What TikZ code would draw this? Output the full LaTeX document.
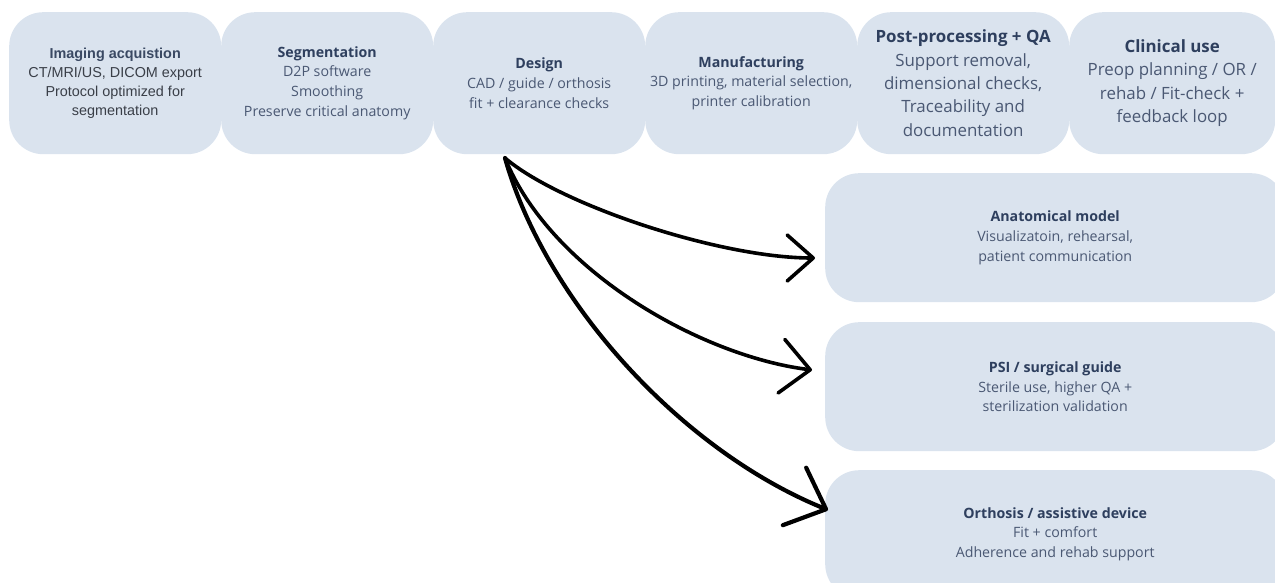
\documentclass[tikz,border=0pt]{standalone}
\usepackage{fontspec}
\setmainfont{Open Sans}
\newfontfamily\arialfont{Liberation Sans}
\usetikzlibrary{arrows.meta}

\definecolor{boxfill}{HTML}{DAE3EE}
\definecolor{titleblue}{HTML}{2E3F5E}
\definecolor{bodyblue}{HTML}{4A5873}
\definecolor{bodygray}{HTML}{3A3F48}

\tikzset{
  stage/.style={fill=boxfill, draw=none, rounded corners=34pt, inner sep=0pt,
    align=center, text=bodyblue, anchor=north west,
    minimum width=212pt, minimum height=142pt},
  usecase/.style={stage, minimum width=460pt, minimum height=129pt},
  small/.style={font=\fontsize{14.2}{19.8}\selectfont},
  large/.style={font=\fontsize{16.9}{23.4}\selectfont},
  flow/.style={line width=3.6pt, line cap=round, line join=round},
}
\newcommand{\ttl}[1]{\textcolor{titleblue}{\bfseries #1}}

\begin{document}
\begin{tikzpicture}[x=1pt,y=-1pt]
\useasboundingbox (0,0) rectangle (1275,583);

% pipeline stages
\node[stage, text=bodygray, font=\arialfont\fontsize{14.4}{19.2}\selectfont] (imaging) at (9,12)
  {\textcolor{titleblue!85!gray}{\bfseries Imaging acquistion}\\CT/MRI/US, DICOM export\\Protocol optimized for\\segmentation};
\node[stage, small] (seg) at (221,12)
  {\ttl{Segmentation}\\D2P software\\Smoothing\\Preserve critical anatomy};
\node[stage, small] (design) at (433,12)
  {\ttl{Design}\\CAD / guide / orthosis\\fit + clearance checks};
\node[stage, small] (manu) at (645,12)
  {\ttl{Manufacturing}\\3D printing, material selection,\\printer calibration};
\node[stage, large] (post) at (857,12)
  {\ttl{Post-processing + QA}\\Support removal,\\dimensional checks,\\Traceability and\\documentation};
\node[stage, large, minimum width=206pt] (clin) at (1069,12)
  {\ttl{Clinical use}\\Preop planning / OR /\\rehab / Fit-check +\\feedback loop};

% application boxes
\node[usecase, small] (anat) at (825,173)
  {\ttl{Anatomical model}\\Visualizatoin, rehearsal,\\patient communication};
\node[usecase, small] (psi) at (825,322)
  {\ttl{PSI / surgical guide}\\Sterile use, higher QA +\\sterilization validation};
\node[usecase, small, minimum height=128pt] (orth) at (825,470)
  {\ttl{Orthosis / assistive device}\\Fit + comfort\\Adherence and rehab support};

% hand-drawn branch arrows from the design stage
\coordinate (src) at (505,158);
\coordinate (toanat) at (815,258);
\coordinate (topsi) at (812,370);
\coordinate (toorth) at (828,510);

\draw[flow, -{Straight Barb[length=26pt,width=46pt,round]}]
  (src) .. controls (560,205) and (720,258) .. (toanat);
\draw[flow, -{Straight Barb[length=29pt,width=54pt,round]}]
  (src) .. controls (550,270) and (700,356) .. (topsi);
\draw[flow, line width=4.2pt, -{Straight Barb[length=34pt,width=62pt,round]}]
  (src) .. controls (545,300) and (680,450) .. (toorth);
\end{tikzpicture}
\end{document}
